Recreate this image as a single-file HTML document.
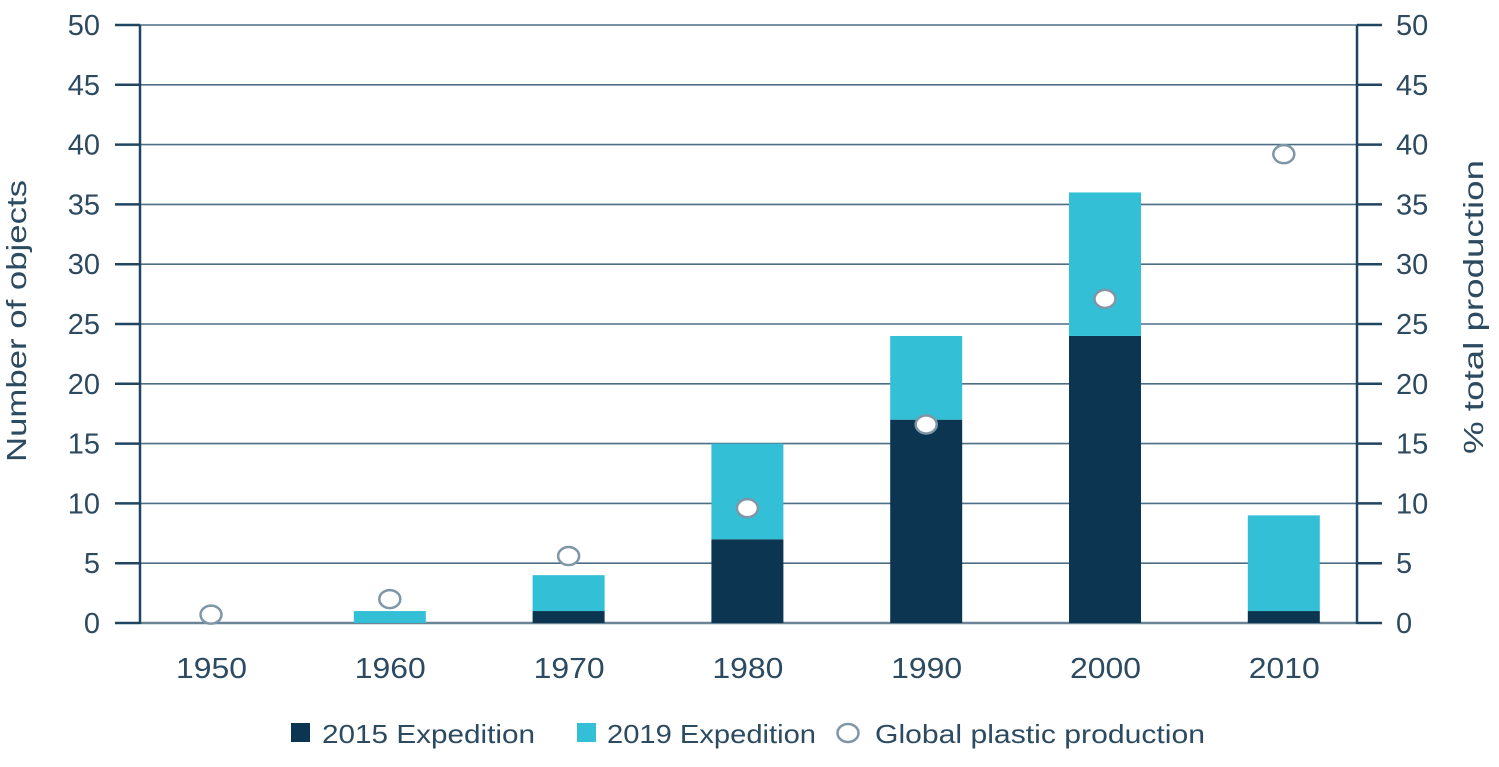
<!DOCTYPE html>
<html><head><meta charset="utf-8"><style>
body{margin:0;background:#fff;width:1499px;height:762px;overflow:hidden}
svg text{font-family:"Liberation Sans",sans-serif;fill:#2c4a60}
</style></head><body>
<svg id="chart" width="1499" height="762" xmlns="http://www.w3.org/2000/svg"></svg>
<script>
const categories=["1950","1960","1970","1980","1990","2000","2010"];
const exp2015=[0,0,1,7,17,24,1];
const exp2019=[0,1,3,8,7,12,8];
const production=[0.7,2,5.6,9.6,16.6,27.1,39.2];
const yTicks=[0,5,10,15,20,25,30,35,40,45,50];

const svg=document.getElementById('chart');
const NS='http://www.w3.org/2000/svg';
const x0=140,x1=1357,yBase=623,yTop=25,maxV=50;
const y=v=>yBase-(yBase-yTop)*v/maxV;
const xc=i=>211+i*178.8;
const bw=72;
function mk(tag,attrs,parent){const e=document.createElementNS(NS,tag);for(const k in attrs)e.setAttribute(k,attrs[k]);(parent||svg).appendChild(e);return e;}

yTicks.forEach(t=>{
  const l=mk('line',{x1:x0,x2:x1,y1:y(t),y2:y(t),stroke:t===0?'#6a8496':'#4d6f86','stroke-width':t===0?2.5:1.6});
  
  
  const tl=mk('line',{x1:115,x2:x0,y1:y(t),y2:y(t),stroke:'#1f4560','stroke-width':2.5});
  
  
  const tr=mk('line',{x1:x1,x2:1382,y1:y(t),y2:y(t),stroke:'#1f4560','stroke-width':2.5});
  
  
  const a=mk('text',{x:100,y:y(t)+10,'text-anchor':'end','font-size':29});a.textContent=t;
  
  
  const b=mk('text',{x:1396,y:y(t)+10,'font-size':29});b.textContent=t;
  
  
});
const la=mk('line',{x1:x0,x2:x0,y1:yTop,y2:yBase+1,stroke:'#1f4560','stroke-width':2.5});

const ra=mk('line',{x1:x1,x2:x1,y1:yTop,y2:yBase+1,stroke:'#1f4560','stroke-width':2.5});


categories.forEach((c,i)=>{
  const cx=xc(i);
  if(exp2015[i]>0){const r=mk('rect',{x:cx-bw/2,y:y(exp2015[i]),width:bw,height:y(0)-y(exp2015[i]),fill:'#0b3550'});
    }
  if(exp2019[i]>0){const top=exp2015[i]+exp2019[i];const r=mk('rect',{x:cx-bw/2,y:y(top),width:bw,height:y(exp2015[i])-y(top),fill:'#33c0d6'});
    }
  const t=mk('text',{x:cx-35,y:678,'font-size':29,textLength:71,lengthAdjust:'spacingAndGlyphs'});t.textContent=c;
  
});
categories.forEach((c,i)=>{
  const e=mk('ellipse',{cx:xc(i),cy:y(production[i]),rx:10.5,ry:9,fill:'#fff',stroke:'#7f96a6','stroke-width':2.5});
  
});
const yl=mk('text',{x:-141,y:0,'font-size':28,textLength:282,lengthAdjust:'spacingAndGlyphs',transform:'translate(26,321) rotate(-90)'});yl.textContent='Number of objects';

const yr=mk('text',{x:-147,y:0,'font-size':28,textLength:294,lengthAdjust:'spacingAndGlyphs',transform:'translate(1483,307) rotate(-90)'});yr.textContent='% total production';


const l1=mk('rect',{x:291,y:723,width:19,height:19,fill:'#0b3550'});
const t1=mk('text',{x:322,y:743,'font-size':26,textLength:213,lengthAdjust:'spacingAndGlyphs'});t1.textContent='2015 Expedition';
const l2=mk('rect',{x:577,y:723,width:19,height:19,fill:'#33c0d6'});
const t2=mk('text',{x:607,y:743,'font-size':26,textLength:209,lengthAdjust:'spacingAndGlyphs'});t2.textContent='2019 Expedition';
const l3=mk('ellipse',{cx:848,cy:733,rx:10.5,ry:9,fill:'#fff',stroke:'#7f96a6','stroke-width':2.5});
const t3=mk('text',{x:875,y:743,'font-size':26,textLength:330,lengthAdjust:'spacingAndGlyphs'});t3.textContent='Global plastic production';
</script>
</body></html>
